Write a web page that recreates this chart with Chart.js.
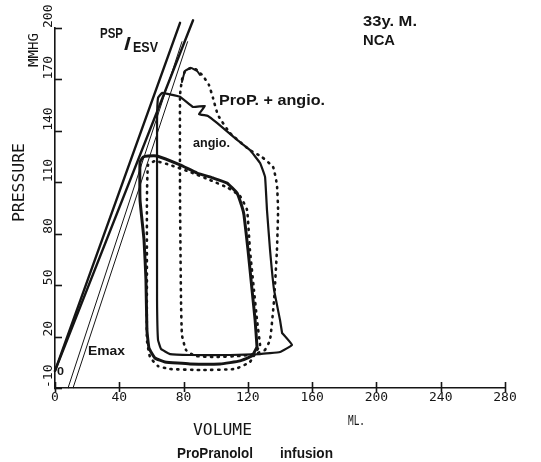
<!DOCTYPE html>
<html><head><meta charset="utf-8">
<script src="https://cdn.jsdelivr.net/npm/chart.js@4"></script>
<style>html,body{margin:0;padding:0;background:#fff;}canvas{display:block;}</style>
</head><body>
<canvas id="c" width="541" height="462"></canvas>
<script>
// ---- axis ticks ----
const volumeTicks = [0, 40, 80, 120, 160, 200, 240, 280];
const pressureTicks = [-10, 20, 50, 80, 110, 140, 170, 200];

// ---- PSP/ESV lines (through origin) ----
const psp1Vol = [0, 77.8];
const psp1P = [0, 203];
const psp2Vol = [0, 85.9];
const psp2P = [0, 204.5];
// ---- Emax lines ----
const emax1Vol = [8.1, 79.0];
const emax1P = [-10, 192];
const emax2Vol = [11.2, 82.5];
const emax2P = [-10, 192];

// ---- loop A (solid, thick, peak ~125) ----
const loopAVol = [125.7,124.5,122.6,120.1,117.6,116.4,113.3,107.0,98.3,88.4,77.8,63.5,57.9,54.8,52.9,52.9,55.4,56.6,57.2,58.5,62.2,68.4,84.0,102.7,115.1,122.6,125.7];
const loopAP   = [13.9,29.7,47.2,70.5,90.9,95.6,103.7,109.6,112.5,115.4,120.1,125.3,125.3,124.7,121.8,99.7,76.3,53.0,23.8,13.3,7.5,5.2,4.0,4.0,5.8,8.7,13.9];

// ---- loop D (dotted, peak ~122) ----
const loopDVol = [127.6,125.7,123.8,121.3,119.5,115.1,107.7,96.5,84.0,71.6,62.2,57.9,57.2,57.2,57.2,59.1,64.1,71.6,90.2,112.0,121.3,127.6];
const loopDP   = [15.1,29.7,47.2,70.5,93.8,102.0,106.7,111.3,116.0,120.1,122.4,120.1,99.7,53.0,18.0,8.1,2.8,1.1,0.5,1.1,5.2,15.1];

// ---- loop B "angio." (solid, peak ~162) ----
const loopBVol = [141.3,147.5,140.0,127.6,108.9,84.0,71.6,66.0,64.1,63.5,63.5,63.5,64.1,66.6,77.8,85.9,93.3,89.6,95.2,100.8,113.3,121.3,127.6,130.7,131.9,133.8,136.3,140.0,141.3];
const loopBP   = [22.1,15.1,11.0,9.8,9.25,9.25,9.8,12.75,18.0,41.3,99.7,146.3,159.2,162.1,159.9,153.9,154.5,149.8,148.7,144.6,134.7,128.8,121.2,113.1,93.8,70.5,47.2,29.7,22.1];

// ---- loop C "ProP. + angio." (dotted, peak ~177) ----
const loopCVol = [130.7,133.8,136.3,138.1,138.8,138.1,135.7,128.8,121.3,108.9,101.4,98.3,95.8,92.1,88.4,84.6,80.9,79.0,77.8,77.8,78.4,79.0,81.5,87.1,99.6,115.1,124.5,130.7];
const loopCP   = [12.2,18.0,41.3,70.5,93.8,108.4,118.9,124.7,128.8,138.7,149.2,159.2,166.7,172.0,175.5,176.7,174.9,169.7,160.9,99.7,41.3,20.9,12.2,8.7,8.1,8.7,9.8,12.2];
const humpCVol = [79.0,80.9,84.6,88.4,90.2];
const humpCP   = [168.5,174.9,176.7,174.9,172.6];

const pts = (vx, vy) => vx.map((v, i) => ({x: v, y: vy[i]}));
const INK = '#151515';

function line(data, w, extra) {
  return Object.assign({
    data, showLine: true, pointRadius: 0, borderColor: INK, borderWidth: w,
    tension: 0.12, fill: false, borderJoinStyle: 'round', borderCapStyle: 'round'
  }, extra || {});
}
const dotted = {borderDash: [1.2, 5.6], borderCapStyle: 'round', borderWidth: 2.6};

function fitText(ctx, s, x, y, width, font, rot) {
  ctx.save();
  ctx.font = font;
  ctx.fillStyle = INK;
  ctx.textAlign = 'left';
  ctx.textBaseline = 'alphabetic';
  ctx.translate(x, y);
  if (rot) ctx.rotate(rot);
  const m = ctx.measureText(s).width;
  ctx.scale(width / m, 1);
  ctx.fillText(s, 0, 0);
  ctx.restore();
}

const MONO = 'DejaVu Sans Mono';
const TICK_FONT = {family: MONO, size: 13, lineHeight: 1};
const CHAR_W = 13 * 0.602;

const decor = {
  id: 'decor',
  afterDraw(chart) {
    const ctx = chart.ctx;
    const xs = chart.scales.x, ys = chart.scales.y;
    const ca = chart.chartArea;
    ctx.save();
    ctx.strokeStyle = INK;
    ctx.lineWidth = 1.6;
    pressureTicks.forEach(v => {
      const y = Math.round(ys.getPixelForValue(v)) + 0.5;
      ctx.beginPath(); ctx.moveTo(ca.left - 1, y); ctx.lineTo(ca.left + 7, y); ctx.stroke();
    });
    volumeTicks.forEach(v => {
      const x = Math.round(xs.getPixelForValue(v)) + 0.5;
      ctx.beginPath(); ctx.moveTo(x, ca.bottom - 6); ctx.lineTo(x, ca.bottom + 4); ctx.stroke();
    });
    ctx.restore();

    const bold = (s) => 'bold ' + s + 'px "Liberation Sans", Arial, sans-serif';
    fitText(ctx, 'PRESSURE', 24, 222, 79, '16px "' + MONO + '"', -Math.PI / 2);
    fitText(ctx, 'MMHG', 38, 67, 34, '14px "' + MONO + '"', -Math.PI / 2);
    fitText(ctx, 'VOLUME', 193, 435, 59, '16px "' + MONO + '"');
    fitText(ctx, 'ML.', 348, 425, 17, '14px "' + MONO + '"');
    fitText(ctx, 'ProPranolol', 177, 458, 76, bold(14));
    fitText(ctx, 'infusion', 280, 458, 53, bold(14));
    fitText(ctx, 'PSP', 100, 38, 23, bold(15));
    fitText(ctx, '/', 124, 50, 7, bold(18));
    fitText(ctx, 'ESV', 133, 52, 25, bold(15));
    fitText(ctx, '33y. M.', 363, 26, 54, bold(14));
    fitText(ctx, 'NCA', 363, 45, 32, bold(14));
    fitText(ctx, 'ProP. + angio.', 219, 105, 106, bold(14));
    fitText(ctx, 'angio.', 193, 147, 37, bold(13));
    fitText(ctx, 'Emax', 88, 355, 37, bold(12));
    fitText(ctx, '0', 57, 375, 7, bold(11));
  }
};

new Chart(document.getElementById('c'), {
  type: 'scatter',
  data: {
    datasets: [
      line(pts(psp1Vol, psp1P), 2.4, {tension: 0, clip: false}),
      line(pts(psp2Vol, psp2P), 2.4, {tension: 0, clip: false}),
      line(pts(emax1Vol, emax1P), 1.0, {tension: 0, clip: false}),
      line(pts(emax2Vol, emax2P), 1.0, {tension: 0, clip: false}),
      line(pts(loopDVol, loopDP), 2.6, dotted),
      line(pts(loopCVol, loopCP), 2.6, dotted),
      line(pts(humpCVol, humpCP), 2.0),
      line(pts(loopAVol, loopAP), 3.0),
      line(pts(loopBVol, loopBP), 2.2, {tension: 0.08})
    ]
  },
  options: {
    responsive: false,
    animation: false,
    events: [],
    layout: {padding: {left: 41, right: 36, top: 28, bottom: 0}},
    plugins: {legend: {display: false}, tooltip: {enabled: false}, title: {display: false}},
    scales: {
      x: {
        type: 'linear', min: 0, max: 280,
        afterBuildTicks: s => { s.ticks = volumeTicks.map(v => ({value: v})); },
        afterFit: s => { s.height = 74; },
        grid: {display: true, drawOnChartArea: false, drawTicks: false},
        border: {display: true, color: INK, width: 1.6},
        ticks: {color: INK, font: TICK_FONT, padding: 3, autoSkip: false, maxRotation: 0, minRotation: 0}
      },
      y: {
        type: 'linear', min: -10, max: 200,
        afterBuildTicks: s => { s.ticks = pressureTicks.map(v => ({value: v})); },
        afterFit: s => { s.width = 14; },
        grid: {display: true, drawOnChartArea: false, drawTicks: false},
        border: {display: true, color: INK, width: 1.6},
        ticks: {
          color: INK, font: TICK_FONT, autoSkip: false, minRotation: 90, maxRotation: 90,
          crossAlign: 'near', padding: 6, labelOffset: -3 * CHAR_W,
          callback: v => String(v).padEnd(3, ' ')
        }
      }
    }
  },
  plugins: [decor]
});
</script>
</body></html>
